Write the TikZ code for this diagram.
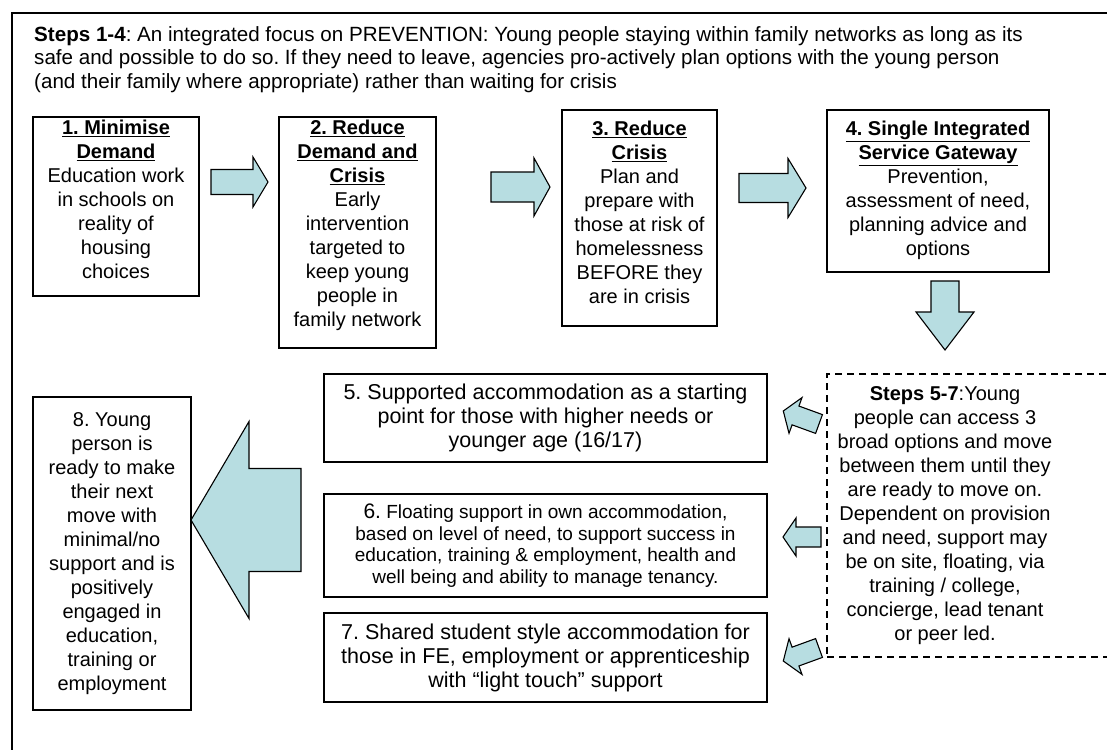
\documentclass[tikz,border=0pt]{standalone}
\usepackage{fontspec}
\setmainfont{Liberation Sans}
\usetikzlibrary{positioning}
\frenchspacing

\definecolor{frecciacol}{RGB}{183,221,225}

\tikzset{
	stepbox/.style={draw, line width=1.6pt, inner sep=0pt},
	steptext/.style={align=center, inner sep=0pt, font=\fontsize{20}{24}\selectfont},
	bigtext/.style={align=center, inner sep=0pt, font=\fontsize{21.5}{24}\selectfont},
	smalltext/.style={align=center, inner sep=0pt, font=\fontsize{19}{21.7}\selectfont},
	optbox/.style={draw, line width=1.3pt, dash pattern=on 7pt off 5pt, inner sep=0pt},
	freccia/.style={draw, fill=frecciacol, line width=1.1pt, line join=miter},
}

% titolo sottolineato
\newcommand{\stepname}[1]{\underline{\textbf{#1}}}
% freccia a blocco: coda, angolo, lunghezza, mezzo fusto, mezza punta, lunghezza punta
\newcommand{\blockarrow}[6]{%
	\draw[freccia, shift={#1}, rotate=#2] (0,-#4) -- ({#3-#6},-#4) -- ({#3-#6},-#5) -- (#3,0)
		-- ({#3-#6},#5) -- ({#3-#6},#4) -- (0,#4) -- cycle;}

\begin{document}
\begin{tikzpicture}[x=1pt, y=-1pt]
		\useasboundingbox (0,0) rectangle (1107,749);

		% Cornice
		\draw[line width=1.8pt] (1115,13) -- (12,13) -- (12,760);

		% Passi 1-4
		\node[align=left, inner sep=0pt, font=\fontsize{20.6}{23.5}\selectfont, anchor=north west] (intro) at (34,26) {\textbf{Steps 1-4}: An integrated focus on PREVENTION: Young people staying within family networks as long as its\\
			safe and possible to do so. If they need to leave, agencies pro-actively plan options with the young person\\
			(and their family where appropriate) rather than waiting for crisis};

		\node[stepbox, minimum width=166, minimum height=179] (s1) at (116,206.5) {};
		\node[stepbox, minimum width=157, minimum height=231] (s2) at (357.5,232.5) {};
		\node[stepbox, minimum width=155, minimum height=216] (s3) at (639.5,218) {};
		\node[stepbox, minimum width=222, minimum height=162] (s4) at (938,191) {};

		\node[steptext, below=4pt of s1.north] (t1) {\stepname{1. Minimise}\\\stepname{Demand}\\Education work\\in schools on\\reality of\\housing\\choices};
		\node[steptext, below=4pt of s2.north] (t2) {\stepname{2. Reduce}\\\stepname{Demand and}\\\stepname{Crisis}\\Early\\intervention\\targeted to\\keep young\\people in\\family network};
		\node[steptext, below=12pt of s3.north] (t3) {\stepname{3. Reduce}\\\stepname{Crisis}\\Plan and\\prepare with\\those at risk of\\homelessness\\BEFORE they\\are in crisis};
		\node[steptext, below=12pt of s4.north] (t4) {\stepname{4. Single Integrated}\\\stepname{Service Gateway}\\Prevention,\\assessment of need,\\planning advice and\\options};

		% Passi 5-7
		\node[optbox, minimum width=298, minimum height=283] (opts) at (976,515.5) {};
		\node[steptext] (t57) at (945,516) {\textbf{Steps 5-7}:Young\\people can access 3\\broad options and move\\between them until they\\are ready to move on.\\Dependent on provision\\and need, support may\\be on site, floating, via\\training / college,\\concierge, lead tenant\\or peer led.};

		\node[stepbox, bigtext, minimum width=443, minimum height=88] (s5) at (545.5,418) {5. Supported accommodation as a starting\\point for those with higher needs or\\younger age (16/17)};
		\node[stepbox, smalltext, minimum width=443, minimum height=103] (s6) at (545.5,545.5) {{\fontsize{21}{21.7}\selectfont 6.} Floating support in own accommodation,\\based on level of need, to support success in\\education, training \& employment, health and\\well being and ability to manage tenancy.};
		\node[stepbox, bigtext, minimum width=443, minimum height=89] (s7) at (545.5,657.5) {7. Shared student style accommodation for\\those in FE, employment or apprenticeship\\with “light touch” support};

		% Passo 8
		\node[stepbox, steptext, minimum width=158, minimum height=313] (s8) at (112,553.5) {8. Young\\person is\\ready to make\\their next\\move with\\minimal/no\\support and is\\positively\\engaged in\\education,\\training or\\employment};

		% Frecce
		\blockarrow{(211,182)}{0}{57}{12.5}{25}{15}
		\blockarrow{(491,187)}{0}{59}{15}{29}{16}
		\blockarrow{(739,188)}{0}{67}{14.5}{29.5}{18}
		\blockarrow{(945,281)}{-90}{69}{14}{29}{38}
		\blockarrow{(819,424)}{160}{38}{10}{19}{13}
		\blockarrow{(821,537)}{180}{38}{10}{19}{13}
		\blockarrow{(819,648)}{200}{38}{10}{19}{13}
		\blockarrow{(301,520)}{180}{110}{51.5}{98.5}{58}
	\end{tikzpicture}
\end{document}
